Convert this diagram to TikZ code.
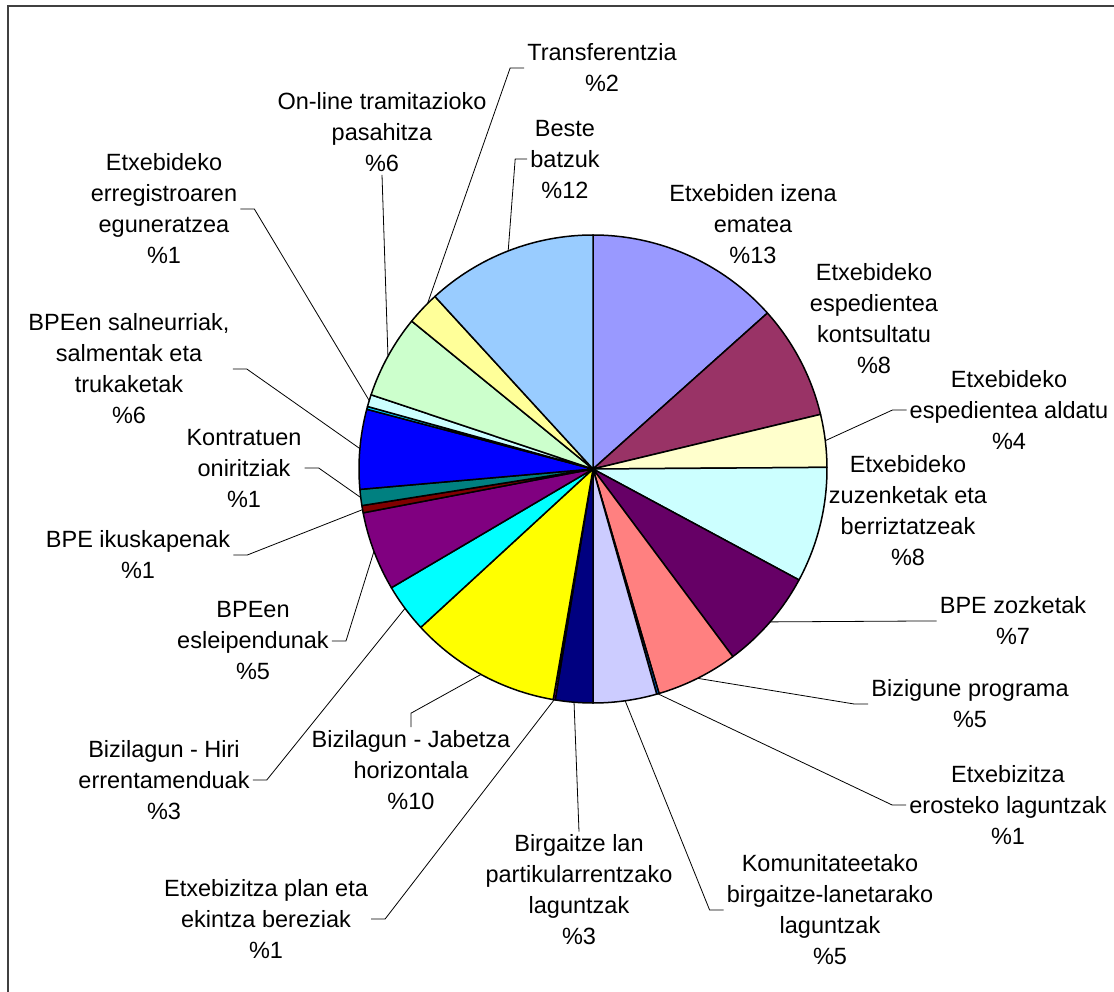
\documentclass[tikz,border=0pt]{standalone}
\usepackage{fontspec}
\setmainfont{Liberation Sans}
\usetikzlibrary{calc}

\definecolor{izena}{HTML}{9999FF}
\definecolor{kontsulta}{HTML}{993366}
\definecolor{aldatu}{HTML}{FFFFCC}
\definecolor{zuzen}{HTML}{CCFFFF}
\definecolor{zozketa}{HTML}{660066}
\definecolor{bizig}{HTML}{FF8080}
\definecolor{erosi}{HTML}{0066CC}
\definecolor{komun}{HTML}{CCCCFF}
\definecolor{birg}{HTML}{000080}
\definecolor{plan}{HTML}{FF00FF}
\definecolor{jabetza}{HTML}{FFFF00}
\definecolor{hiri}{HTML}{00FFFF}
\definecolor{eslei}{HTML}{800080}
\definecolor{ikusk}{HTML}{800000}
\definecolor{kontr}{HTML}{008080}
\definecolor{salneur}{HTML}{0000FF}
\definecolor{mehe}{HTML}{00CCFF}
\definecolor{erreg}{HTML}{CCFFFF}
\definecolor{online}{HTML}{CCFFCC}
\definecolor{transf}{HTML}{FFFF99}
\definecolor{beste}{HTML}{99CCFF}

\begin{document}
\begin{tikzpicture}[x=1pt,y=1pt,
    lbl/.style={align=center,inner sep=3pt,font=\fontsize{23.5}{31}\selectfont},
    leader/.style={draw=black,line width=0.8pt},
    slice/.style={draw=black,line width=1.5pt,line join=round}]
    \useasboundingbox (0,0) rectangle (1114,-992);
    \draw[line width=1.3pt,black!75] (8,-1000) -- (8,-6) -- (1120,-6);

    % pie
    \coordinate (c) at (593,-469);
    \foreach \a/\b/\col in {90/41.8/izena, 41.8/13.5/kontsulta, 13.5/0.4/aldatu,
        0.4/-28.3/zuzen, -28.3/-53.3/zozketa, -53.3/-73.6/bizig, -73.6/-74.2/erosi,
        -74.2/-90/komun, -90/-99.3/birg, -99.3/-99.8/plan, -99.8/-137.4/jabetza,
        -137.4/-149.5/hiri, -149.5/-169.2/eslei, -169.2/-171/ikusk, -171/-175/kontr,
        -175/-194.8/salneur, -194.8/-195.5/mehe, -195.5/-198.5/erreg,
        -198.5/-219.2/online, -219.2/-227.5/transf, -227.5/-270/beste}
        \filldraw[slice,fill=\col] (c) -- ($(c)+(\a:234)$)
            arc[start angle=\a,end angle=\b,radius=234] -- cycle;

    % leader ends on the rim
    \foreach \n/\ang in {beste/111.25, transf/135, online/151.2, erreg/163,
        salneur/175, kontr/187, ikusk/190, eslei/200.6, hiri/-143.45,
        jabetza/-118.6, plan/-99.55, birg/-94.65, komun/-82.1, erosi/-73.9,
        bizig/-63.45, zozketa/-40.8, aldatu/6.95}
        \coordinate (p\n) at ($(c)+(\ang:234)$);

    % labels
    \node[lbl] (izena) at (753,-224) {Etxebiden izena\\ematea\\\%13};
    \node[lbl] (kontsulta) at (874,-319) {Etxebideko\\espedientea\\kontsultatu\\\%8};
    \node[lbl] (aldatu) at (1009,-410) {Etxebideko\\espedientea aldatu\\\%4};
    \node[lbl] (zuzen) at (908,-511) {Etxebideko\\zuzenketak eta\\berriztatzeak\\\%8};
    \node[lbl] (zozketa) at (1013,-621) {BPE zozketak\\\%7};
    \node[lbl] (bizig) at (970,-704) {Bizigune programa\\\%5};
    \node[lbl] (erosi) at (1008,-805) {Etxebizitza\\erosteko laguntzak\\\%1};
    \node[lbl] (komun) at (830,-910) {Komunitateetako\\birgaitze-lanetarako\\laguntzak\\\%5};
    \node[lbl] (birg) at (579,-890) {Birgaitze lan\\partikularrentzako\\laguntzak\\\%3};
    \node[lbl] (plan) at (266,-919) {Etxebizitza plan eta\\ekintza bereziak\\\%1};
    \node[lbl] (jabetza) at (411,-770) {Bizilagun - Jabetza\\horizontala\\\%10};
    \node[lbl] (hiri) at (164,-780) {Bizilagun - Hiri\\errentamenduak\\\%3};
    \node[lbl] (eslei) at (253,-641) {BPEen\\esleipendunak\\\%5};
    \node[lbl] (ikusk) at (138,-555) {BPE ikuskapenak\\\%1};
    \node[lbl] (kontr) at (244,-468) {Kontratuen\\oniritziak\\\%1};
    \node[lbl] (salneur) at (129,-369) {BPEen salneurriak,\\salmentak eta\\trukaketak\\\%6};
    \node[lbl] (erreg) at (164,-209) {Etxebideko\\erregistroaren\\eguneratzea\\\%1};
    \node[lbl] (online) at (382,-132) {On-line tramitazioko\\pasahitza\\\%6};
    \node[lbl] (transf) at (602,-68) {Transferentzia\\\%2};
    \node[lbl] (beste) at (565,-159) {Beste\\batzuk\\\%12};

    % leader lines
    \draw[leader] (beste.west) -- ++(-12,0) -- (pbeste);
    \draw[leader] (transf.west) -- ++(-14,0) -- (ptransf);
    \draw[leader] (online.south) -- (ponline);
    \draw[leader] (erreg.east) -- ++(14,0) -- (perreg);
    \draw[leader] (salneur.east) -- ++(14,0) -- (psalneur);
    \draw[leader] (kontr.east) -- ++(14,0) -- (pkontr);
    \draw[leader] (ikusk.east) -- ++(14,0) -- (pikusk);
    \draw[leader] (eslei.east) -- ++(14,0) -- (peslei);
    \draw[leader] (hiri.east) -- ++(14,0) -- (phiri);
    \draw[leader] (jabetza.north) -- ++(0,14) -- (pjabetza);
    \draw[leader] (plan.east) -- ++(14,0) -- (pplan);
    \draw[leader] (birg.north) -- (pbirg);
    \draw[leader] (komun.west) -- ++(-14,0) -- (pkomun);
    \draw[leader] (erosi.west) -- ++(-14,0) -- (perosi);
    \draw[leader] (bizig.west) -- ++(-14,0) -- (pbizig);
    \draw[leader] (zozketa.west) -- ++(-14,0) -- (pzozketa);
    \draw[leader] (aldatu.west) -- ++(-14,0) -- (paldatu);
\end{tikzpicture}
\end{document}
